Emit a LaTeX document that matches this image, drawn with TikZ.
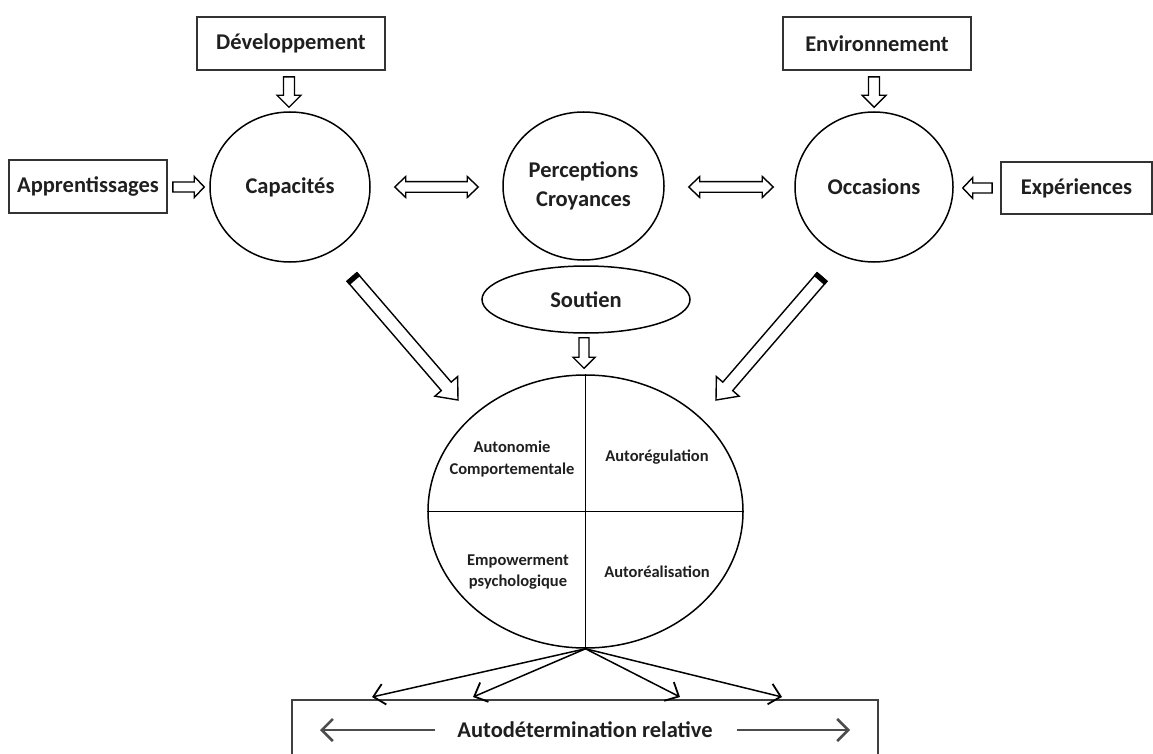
\documentclass[tikz,border=0pt]{standalone}
\usepackage{fontspec}
\setmainfont{Carlito}
\usetikzlibrary{shapes.geometric,calc,arrows.meta}
% single block arrow: tail, tip, shaft half width, head half width, head length
\newcommand\singlearr[5]{%
  \draw[blk] let \p1=($(#2)-(#1)$), \n1={atan2(\y1,\x1)}, \n2={veclen(\x1,\y1)} in
    [shift={(#1)}, rotate=\n1]
    (0,#3) -- ({\n2-#5},#3) -- ({\n2-#5},#4) -- (\n2,0) -- ({\n2-#5},-#4) -- ({\n2-#5},-#3) -- (0,-#3) -- cycle;}
% same with a black cap at the tail
\newcommand\cappedarr[5]{%
  \singlearr{#1}{#2}{#3}{#4}{#5}%
  \fill[black] let \p1=($(#2)-(#1)$), \n1={atan2(\y1,\x1)} in
    [shift={(#1)}, rotate=\n1]
    (-0.7,#3+0.7) -- (4.5,#3+0.7) -- (4.5,-#3-0.7) -- (-0.7,-#3-0.7) -- cycle;}
% double block arrow
\newcommand\doublearr[5]{%
  \draw[blk] let \p1=($(#2)-(#1)$), \n1={atan2(\y1,\x1)}, \n2={veclen(\x1,\y1)} in
    [shift={(#1)}, rotate=\n1]
    (0,0) -- (#5,#4) -- (#5,#3) -- ({\n2-#5},#3) -- ({\n2-#5},#4) -- (\n2,0)
    -- ({\n2-#5},-#4) -- ({\n2-#5},-#3) -- (#5,-#3) -- (#5,-#4) -- cycle;}
\begin{document}
\begin{tikzpicture}[x=1pt,y=1pt,
  lbl/.style={font=\fontsize{22.5}{28.5}\selectfont\bfseries, align=center, inner sep=0pt, text=black!88},
  small/.style={font=\fontsize{16.5}{21.5}\selectfont\bfseries, align=center, inner sep=0pt, text=black!88},
  box/.style={lbl, draw=black!80, line width=1.7pt, inner sep=0pt},
  oval/.style={lbl, ellipse, draw, line width=1.5pt, inner sep=0pt},
  blk/.style={draw, line width=1.4pt, fill=white, line join=miter},
  thinarr/.style={line width=1.5pt, -{Straight Barb[length=11pt,width=21pt,line width=1.8pt]}},
  relarr/.style={line width=2.2pt, draw=black!70, -{Straight Barb[length=11pt,width=22pt,line width=2.6pt]}}
]
\useasboundingbox (0,0) rectangle (1153,-754);
\clip (0,0) rectangle (1153,-754);

% boxes
\node[box, minimum width=188pt, minimum height=53pt] (dev) at (291,-43.5) {Développement};
\node[box, minimum width=188pt, minimum height=53pt] (env) at (877,-43.5) {Environnement};
\node[box, minimum width=158pt, minimum height=53pt] (app) at (88,-186.5) {Apprentissages};
\node[box, minimum width=151pt, minimum height=52pt] (exp) at (1076.5,-188) {Expériences};

% circles
\node[oval, minimum width=160pt, minimum height=150pt] (cap) at (290,-187) {Capacités};
\node[oval, minimum width=161pt, minimum height=148pt] (per) at (583.5,-186) {Perceptions\\Croyances};
\node[oval, minimum width=158pt, minimum height=150pt] (occ) at (874,-187) {Occasions};
\node[oval, minimum width=208pt, minimum height=67pt] (sou) at (586,-299.5) {Soutien};
\node[ellipse, draw, line width=1.5pt, minimum width=315pt, minimum height=273pt, inner sep=0pt] (big) at (585.5,-511.5) {};
\draw[line width=1.5pt] (big.north) -- (big.south);
\draw[line width=1.5pt] (big.west) -- (big.east);
\node[small] (q1) at (512,-459) {Autonomie\\Comportementale};
\node[small] (q2) at (657,-457) {Autorégulation};
\node[small] (q3) at (518,-572) {Empowerment\\psychologique};
\node[small] (q4) at (657,-572) {Autoréalisation};

% bottom box
\node[draw=black!75, line width=1.7pt, minimum width=586pt, minimum height=90pt, inner sep=0pt] (rel) at (585,-745) {};
\node[lbl] (reltxt) at (585,-730) {Autodétermination relative};
\coordinate (rl) at (320,-730);
\coordinate (rr) at (850,-730);
\draw[relarr] ([xshift=-22pt]reltxt.west) -- (rl);
\draw[relarr] ([xshift=24pt]reltxt.east) -- (rr);

% block arrow end points
\coordinate (devA) at ($(dev.south)+(-2,-6)$);
\coordinate (devB) at ($(cap.north)+(-1,4)$);
\coordinate (envA) at ($(env.south)+(-3,-6)$);
\coordinate (envB) at ($(occ.north)+(0,4)$);
\coordinate (appA) at ($(app.east)+(5,-0.5)$);
\coordinate (appB) at ($(cap.west)+(-5,0)$);
\coordinate (expA) at ($(exp.west)+(-8,0)$);
\coordinate (expB) at ($(occ.east)+(9,-1)$);
\coordinate (souA) at ($(sou.south)+(-2,-4)$);
\coordinate (souB) at ($(big.north)+(-1.5,6)$);
\coordinate (dl1) at ($(cap.east)+(24,0)$);
\coordinate (dl2) at ($(per.west)+(-24,-1)$);
\coordinate (dr1) at ($(per.east)+(24,-1)$);
\coordinate (dr2) at ($(occ.west)+(-21,0)$);
\coordinate (capA) at (352,-277);
\coordinate (capB) at (458,-400);
\coordinate (occA) at (822,-277);
\coordinate (occB) at (716,-400);

\singlearr{devA}{devB}{5.5}{12}{12}
\singlearr{envA}{envB}{5.5}{12}{12}
\singlearr{appA}{appB}{5}{10.5}{10}
\singlearr{expA}{expB}{5}{10.5}{10}
\singlearr{souA}{souB}{5}{11}{11}
\doublearr{dl1}{dl2}{5.3}{10.5}{11}
\doublearr{dr1}{dr2}{5.3}{10.5}{11}
\cappedarr{capA}{capB}{6.5}{15}{18}
\cappedarr{occA}{occB}{6.5}{15}{18}

% fan of arrows to the bottom box
\coordinate (t1) at (372,-697);
\coordinate (t2) at (473,-697);
\coordinate (t3) at (680,-697);
\coordinate (t4) at (782,-697);
\foreach \t in {t1,t2,t3,t4}
  \draw[thinarr] (big.south) -- (\t);
\end{tikzpicture}
\end{document}
